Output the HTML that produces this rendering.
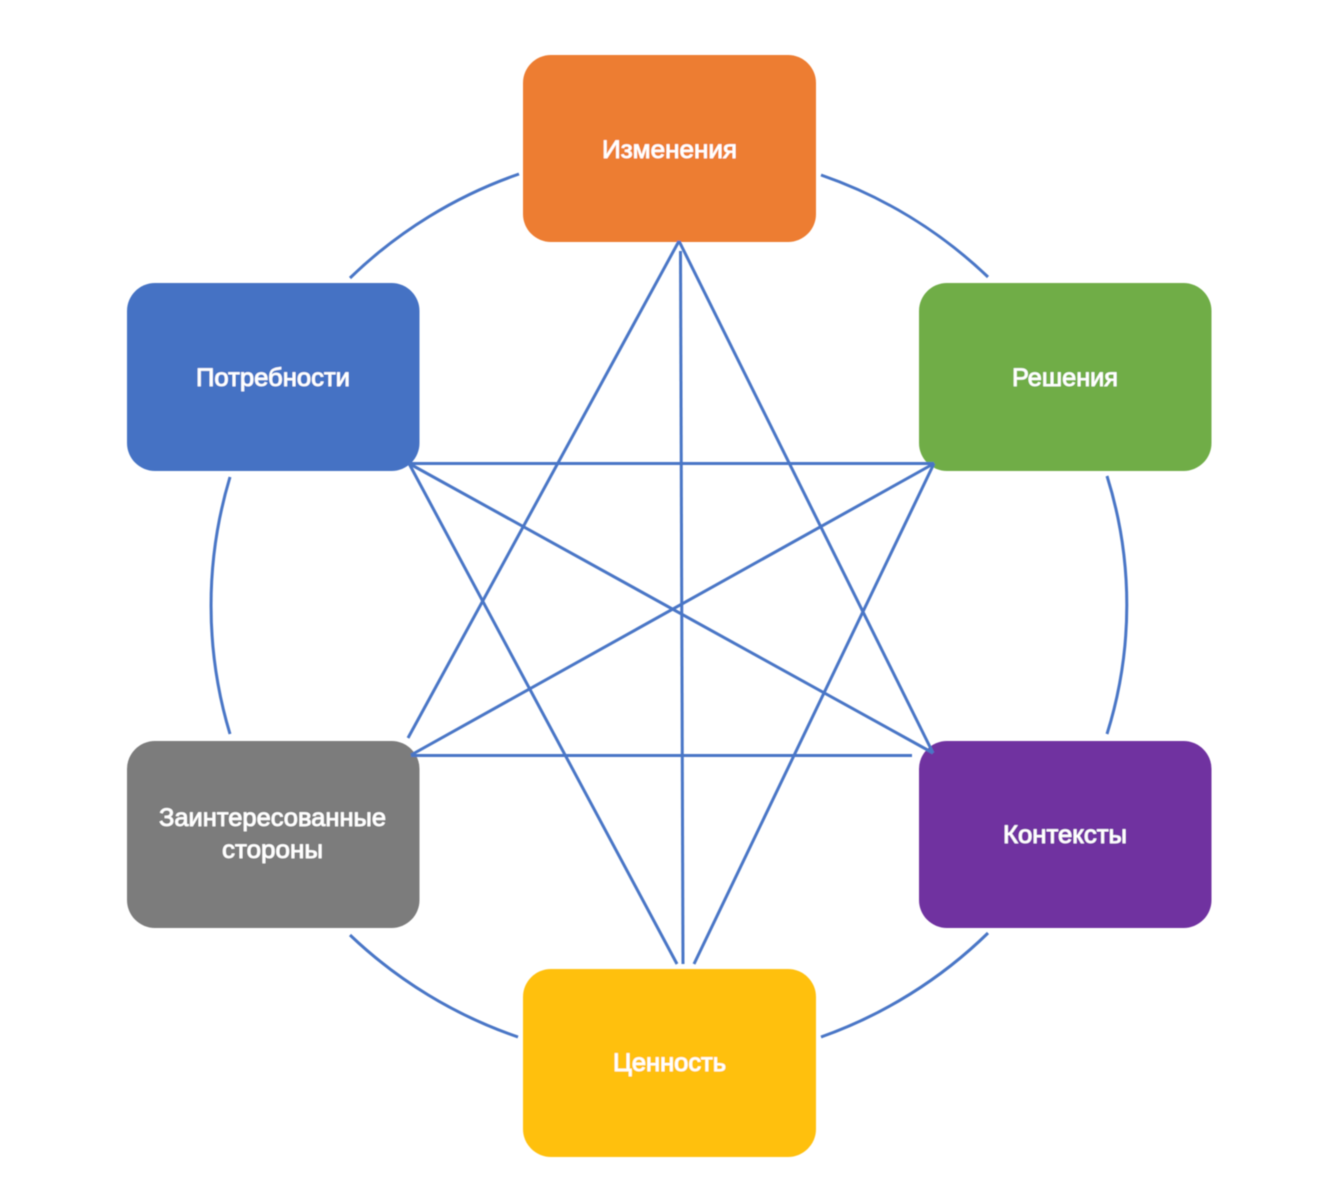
<!DOCTYPE html>
<html lang="ru">
<head>
<meta charset="utf-8">
<title>Диаграмма</title>
<style>
html,body{margin:0;padding:0;background:#fff;width:1318px;height:1183px;overflow:hidden}
svg{display:block}
text{font-family:"Liberation Sans",sans-serif;font-size:25px;fill:#fff;stroke:#fff;stroke-width:.75px;text-anchor:start}
.l{stroke:#4a76c6;stroke-width:3;fill:none;stroke-linecap:butt}
</style>
</head>
<body>
<svg width="1318" height="1183" viewBox="0 0 1318 1183" xmlns="http://www.w3.org/2000/svg">
<defs><filter id="b" x="-5%" y="-5%" width="110%" height="110%"><feGaussianBlur stdDeviation="0.6"/></filter></defs>
<g filter="url(#b)">
<rect x="523" y="55" width="293" height="187" rx="28" fill="#ed7d31"/>
<rect x="127" y="283" width="292.500" height="188" rx="28" fill="#4472c4"/>
<rect x="919" y="283" width="292.500" height="188" rx="28" fill="#70ad47"/>
<rect x="127" y="741" width="292.500" height="187" rx="28" fill="#7b7b7b"/>
<rect x="919" y="741" width="292.500" height="187" rx="28" fill="#7030a0"/>
<rect x="523" y="969" width="293" height="188" rx="28" fill="#ffc010"/>
<path class="l" d="M519 174A458 458 0 0 0 350 278"/>
<path class="l" d="M821 175A458 458 0 0 1 988 277"/>
<path class="l" d="M230 477A445 445 0 0 0 230 734"/>
<path class="l" d="M1107 476A430 430 0 0 1 1107 734"/>
<path class="l" d="M350 935A458 458 0 0 0 518 1037"/>
<path class="l" d="M821 1037A458 458 0 0 0 988 933"/>
<path class="l" d="M679 241L408 738"/>
<path class="l" d="M679 241L933 753"/>
<path class="l" d="M680.500 251L683 964"/>
<path class="l" d="M409 463.500L934 463.500"/>
<path class="l" d="M409 463.500L677 964"/>
<path class="l" d="M409 463.500L933 753"/>
<path class="l" d="M934 463.500L411 755"/>
<path class="l" d="M934 463.500L694 964"/>
<path class="l" d="M411 755.500L912 755.500"/>
<text x="602" y="158" textLength="135" lengthAdjust="spacingAndGlyphs">Изменения</text>
<text x="196" y="386" textLength="154" lengthAdjust="spacingAndGlyphs">Потребности</text>
<text x="1012" y="386" textLength="106" lengthAdjust="spacingAndGlyphs">Решения</text>
<text x="159" y="826" textLength="227" lengthAdjust="spacingAndGlyphs">Заинтересованные</text>
<text x="222" y="858" textLength="101" lengthAdjust="spacingAndGlyphs">стороны</text>
<text x="1003" y="843" textLength="124" lengthAdjust="spacingAndGlyphs">Контексты</text>
<text x="613" y="1071" textLength="113" lengthAdjust="spacingAndGlyphs">Ценность</text>
</g>
</svg>
</body>
</html>
